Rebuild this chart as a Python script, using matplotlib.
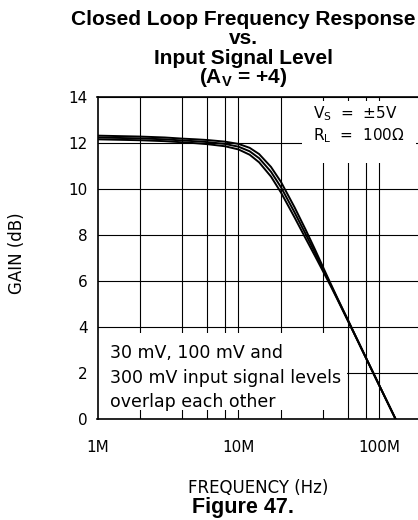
import matplotlib
matplotlib.use("Agg")
import matplotlib.pyplot as plt
from matplotlib.patches import Rectangle
from matplotlib.ticker import FixedLocator, NullFormatter


# -------------------------------------------------------------------
# Data (frequency in MHz, gain in dB)
# -------------------------------------------------------------------
FREQ_MHZ = [1, 2, 3, 4, 5, 6, 8, 10, 12, 14, 17, 20, 25, 30, 35, 40, 45,
            50, 60, 70, 80, 100, 130]

GAIN_30MV = [12.32, 12.28, 12.24, 12.19, 12.16, 12.13, 12.06, 11.96, 11.79,
             11.52, 10.96, 10.31, 9.20, 8.22, 7.35, 6.57, 5.89, 5.29, 4.28,
             3.42, 2.68, 1.44, 0.0]
GAIN_100MV = [12.24, 12.20, 12.16, 12.11, 12.075, 12.04, 11.96, 11.84, 11.64,
              11.34, 10.75, 10.08, 8.98, 8.03, 7.21, 6.48, 5.84, 5.26, 4.26,
              3.41, 2.67, 1.44, 0.0]
GAIN_300MV = [12.16, 12.12, 12.08, 12.03, 11.99, 11.95, 11.86, 11.72, 11.49,
              11.16, 10.54, 9.85, 8.76, 7.84, 7.07, 6.39, 5.79, 5.23, 4.24,
              3.40, 2.66, 1.44, 0.0]

X_TICKS_MHZ = [1, 10, 100]
X_TICK_LABELS = ["1M", "10M", "100M"]
X_GRID_MHZ = [2, 4, 6, 8, 10, 20, 40, 60, 80, 100]
Y_TICKS = [0, 2, 4, 6, 8, 10, 12, 14]

TITLE_LINES = [
    "Closed Loop Frequency Response",
    "vs.",
    "Input Signal Level",
    r"(A$\mathregular{_V}$ = +4)",
]
NOTE_LINES = [
    "30 mV, 100 mV and",
    "300 mV input signal levels",
    "overlap each other",
]
COND_LINES = [
    r"V$\mathregular{_S}$  =  ±5V",
    r"R$\mathregular{_L}$  =  100Ω",
]

# -------------------------------------------------------------------
# Figure layout (pixels)
# -------------------------------------------------------------------
W_PX, H_PX = 418, 520
AX_LEFT, AX_TOP, AX_BOTTOM = 97.5, 97.0, 419.0
DECADE_PX = 141.0


def fig_xy(px, py):
    """Convert pixel position (from top-left) to figure fraction."""
    return px / W_PX, 1 - py / H_PX


def main() -> None:
    fig = plt.figure(figsize=(W_PX / 100, H_PX / 100), dpi=100)
    ax_width = DECADE_PX * 2.301  # 1 MHz .. 200 MHz
    ax = fig.add_axes([AX_LEFT / W_PX, 1 - AX_BOTTOM / H_PX,
                       ax_width / W_PX, (AX_BOTTOM - AX_TOP) / H_PX])

    freq_hz = [f * 1e6 for f in FREQ_MHZ]
    for gain in (GAIN_30MV, GAIN_100MV, GAIN_300MV):
        ax.plot(freq_hz, gain, color="black", lw=1.4, zorder=3,
                solid_joinstyle="round")

    ax.set_xscale("log")
    ax.set_xlim(1e6, 2e8)
    ax.set_ylim(0, 14)

    ax.xaxis.set_major_locator(FixedLocator([f * 1e6 for f in X_TICKS_MHZ]))
    ax.set_xticklabels(X_TICK_LABELS)
    ax.xaxis.set_minor_locator(FixedLocator([f * 1e6 for f in X_GRID_MHZ]))
    ax.xaxis.set_minor_formatter(NullFormatter())
    ax.set_yticks(Y_TICKS)

    ax.tick_params(which="both", length=0, labelsize=11)
    ax.tick_params(axis="x", pad=15)
    ax.tick_params(axis="y", pad=7)

    ax.set_axisbelow(True)
    ax.grid(True, which="both", axis="x", color="black", lw=0.8)
    ax.grid(True, which="major", axis="y", color="black", lw=0.8)

    for side in ("left", "top", "bottom", "right"):
        ax.spines[side].set_linewidth(1.2)

    # white panels behind the annotations
    ax.add_patch(Rectangle((1e6, 0.39), 58.8e6 - 1e6, 3.74 - 0.39,
                           facecolor="white", edgecolor="none", zorder=2))
    ax.add_patch(Rectangle((28.2e6, 11.13), 181.5e6 - 28.2e6, 13.83 - 11.13,
                           facecolor="white", edgecolor="none", zorder=2))

    ax.set_xlabel("FREQUENCY (Hz)", fontsize=12)
    ax.xaxis.set_label_coords((258 - AX_LEFT) / ax_width,
                              (AX_BOTTOM - 479) / (AX_BOTTOM - AX_TOP))
    ax.set_ylabel("GAIN (dB)", fontsize=12)
    ax.yaxis.set_label_coords((26 - AX_LEFT) / ax_width,
                              (AX_BOTTOM - 253) / (AX_BOTTOM - AX_TOP))

    for line, base in zip(NOTE_LINES, (358, 383, 407)):
        fig.text(*fig_xy(110, base), line, fontsize=12.5, va="baseline")

    for line, base in zip(COND_LINES, (118, 140)):
        fig.text(*fig_xy(313, base), line, fontsize=11, va="baseline")

    for line, base in zip(TITLE_LINES, (25, 44, 63.5, 83)):
        fig.text(*fig_xy(243, base), line, fontsize=15, fontweight="bold",
                 family="Liberation Sans", ha="center", va="baseline")

    fig.text(*fig_xy(243, 513), "Figure 47.", fontsize=15.5,
             fontweight="bold", family="Liberation Sans",
             ha="center", va="baseline")

    fig.savefig("out.png", dpi=100)
    plt.close(fig)


if __name__ == "__main__":
    main()
